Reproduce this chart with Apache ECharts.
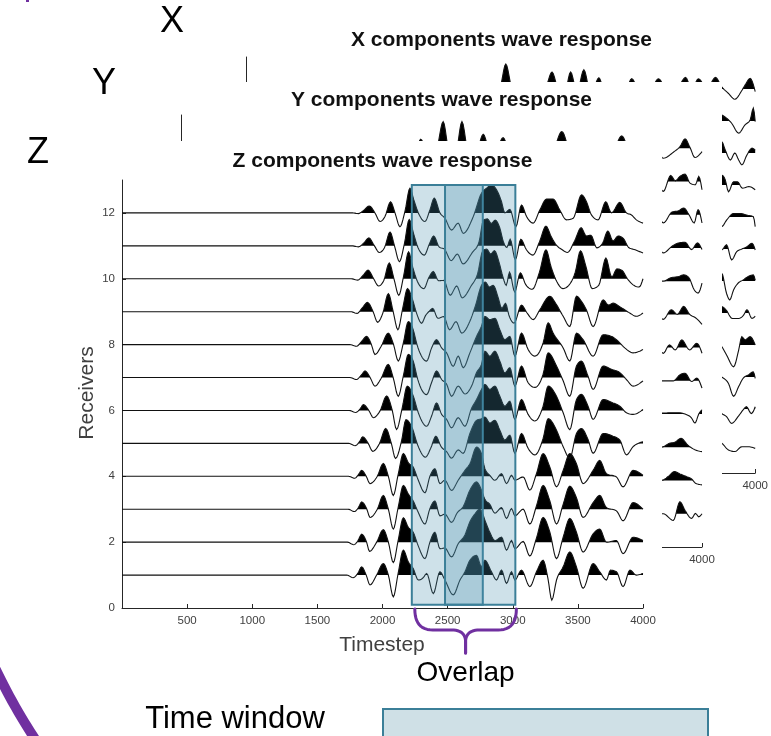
<!DOCTYPE html>
<html><head><meta charset="utf-8">
<script src="https://cdn.jsdelivr.net/npm/echarts@6/dist/echarts.min.js"></script>
<style>html,body{margin:0;padding:0;background:#fff}#c{width:771px;height:736px}</style>
</head><body><div id="c"></div>
<script>
// ---------- data ----------
const timeTicks = [500, 1000, 1500, 2000, 2500, 3000, 3500, 4000];
const receiverTicks = [0, 2, 4, 6, 8, 10, 12];
const panelTitles = ['X components wave response', 'Y components wave response', 'Z components wave response'];
const panelLetters = ['X', 'Y', 'Z'];
const timeWindows = [[2225, 2770], [2480, 3020]];
const windowReceiverSpan = [0.1, 12.85];

// Z component traces: [timestep, amplitude] pairs (receiver 1..12)
const zTrace1 = [[0,0],[1725,0],[1775,-0.08],[1810,0.05],[1840,0.25],[1875,0],[1904,-0.3],[1955,0],[2006,0.35],[2045,0],[2083,-0.66],[2120,0.05],[2160,0.76],[2198,0.4],[2236,0.2],[2275,-0.15],[2313,-0.08],[2339,0.05],[2390,-0.56],[2441,0.1],[2479,-0.15],[2543,-0.6],[2595,-0.15],[2633,0.1],[2671,0.45],[2722,0.6],[2760,0.25],[2786,0.45],[2837,0.1],[2875,-0.15],[2914,0.15],[2952,-0.25],[2991,0.1],[3016,-0.15],[3067,0.15],[3131,-0.35],[3182,0.1],[3233,0.45],[3270,-0.1],[3300,-0.76],[3336,-0.15],[3387,0.25],[3438,0.7],[3489,0.25],[3540,-0.4],[3617,0.35],[3668,0.1],[3719,-0.15],[3750,0.15],[3796,0.1],[3847,-0.35],[3900,0.15],[3949,0],[4000,0.05]];
const zTrace2 = [[0,0],[1730,0],[1780,-0.08],[1812,0.05],[1840,0.24],[1878,0],[1900,-0.28],[1955,0],[2006,0.38],[2045,0],[2083,-0.62],[2120,0.05],[2160,0.74],[2198,0.45],[2236,0.3],[2275,-0.12],[2326,-0.5],[2364,0],[2402,0.3],[2441,-0.2],[2479,-0.18],[2530,-0.45],[2581,-0.05],[2633,0.22],[2671,0.62],[2710,0.86],[2745,1.0],[2760,0.95],[2786,0.67],[2824,0.3],[2863,0.05],[2914,0.15],[2952,-0.24],[2991,0.05],[3016,-0.2],[3080,0.02],[3131,-0.42],[3182,0.12],[3233,0.75],[3285,0.3],[3336,-0.5],[3387,0.15],[3438,0.72],[3489,0.3],[3540,-0.3],[3617,0.25],[3668,0.4],[3719,0],[3796,0.05],[3847,-0.35],[3924,0.15],[4000,0.05]];
const zTrace3 = [[0,0],[1735,0],[1785,-0.07],[1815,0.05],[1840,0.22],[1880,0],[1904,-0.25],[1960,0],[2006,0.42],[2045,0],[2083,-0.6],[2120,0.05],[2160,0.72],[2200,0.45],[2236,0.25],[2275,-0.1],[2326,-0.45],[2364,0.02],[2402,0.25],[2441,-0.2],[2479,-0.15],[2530,-0.4],[2575,-0.1],[2620,0.08],[2671,0.58],[2722,0.83],[2760,0.58],[2786,0.3],[2824,0.15],[2863,-0.12],[2914,0.05],[2952,-0.28],[2991,0.02],[3016,-0.2],[3080,0],[3131,-0.45],[3182,0.1],[3233,0.72],[3285,0.25],[3336,-0.45],[3387,0.15],[3438,0.7],[3489,0.35],[3540,-0.25],[3617,0.2],[3668,0.42],[3719,0.05],[3796,-0.05],[3847,-0.35],[3924,0.2],[4000,0]];
const zTrace4 = [[0,0],[1738,0],[1788,-0.06],[1815,0.05],[1840,0.18],[1875,0],[1904,-0.22],[1960,0],[2006,0.39],[2045,0],[2083,-0.58],[2120,0.05],[2160,0.69],[2200,0.4],[2236,0.28],[2275,-0.12],[2326,-0.5],[2364,0],[2402,0.23],[2441,-0.22],[2479,-0.12],[2530,-0.43],[2581,-0.12],[2633,0.18],[2671,0.38],[2722,0.89],[2760,0.69],[2786,0.23],[2824,0.03],[2863,-0.12],[2914,0.08],[2952,-0.22],[2991,0.03],[3016,-0.12],[3080,-0.02],[3131,-0.42],[3182,0.08],[3233,0.69],[3285,0.28],[3336,-0.32],[3387,0.18],[3438,0.69],[3489,0.38],[3540,-0.22],[3617,0.18],[3668,0.48],[3719,0.08],[3796,-0.02],[3847,-0.32],[3924,0.18],[4000,0.03]];
const zTrace5 = [[0,0],[1740,0],[1790,-0.07],[1825,0.06],[1848,0.2],[1890,0],[1925,-0.24],[1975,-0.02],[2025,0.45],[2068,0],[2100,-0.46],[2145,0.05],[2180,0.72],[2230,0.45],[2270,-0.05],[2330,-0.42],[2370,-0.15],[2410,0.22],[2450,-0.1],[2492,-0.25],[2530,-0.45],[2581,-0.2],[2620,-0.3],[2671,0.3],[2722,0.7],[2760,0.75],[2786,0.8],[2824,0.62],[2863,0.7],[2901,0.4],[2939,0.1],[2978,0.25],[3016,-0.3],[3067,0.3],[3118,-0.15],[3170,-0.35],[3233,0.15],[3272,0.75],[3336,0.4],[3387,-0.1],[3438,-0.45],[3489,0.3],[3527,0.45],[3578,0.12],[3617,-0.3],[3694,0.3],[3770,0.22],[3822,0.1],[3873,-0.35],[3924,-0.1],[4000,0.05]];
const zTrace6 = [[0,0],[1745,0],[1795,-0.06],[1830,0.06],[1853,0.18],[1895,0],[1930,-0.22],[1980,-0.02],[2032,0.44],[2075,0],[2108,-0.58],[2150,0.05],[2190,0.74],[2236,0.44],[2275,-0.07],[2339,-0.48],[2377,-0.17],[2415,0.23],[2454,-0.12],[2492,-0.27],[2530,-0.53],[2581,-0.22],[2633,-0.48],[2684,0.07],[2722,0.33],[2760,0.64],[2786,0.79],[2824,0.64],[2863,0.74],[2901,0.43],[2939,0.13],[2978,0.28],[3016,-0.27],[3067,0.33],[3118,-0.12],[3170,-0.32],[3233,0.13],[3272,0.74],[3336,0.43],[3387,-0.07],[3438,-0.58],[3489,0.33],[3527,0.49],[3578,0.13],[3617,-0.27],[3694,0.33],[3770,0.23],[3822,0.13],[3873,-0.07],[3924,-0.12],[4000,0.03]];
const zTrace7 = [[0,0],[1750,0],[1800,-0.06],[1838,0.08],[1866,0.2],[1905,0],[1942,-0.26],[1990,-0.02],[2044,0.4],[2082,0],[2121,-0.57],[2160,0.05],[2198,0.7],[2236,0.5],[2270,-0.05],[2339,-0.52],[2377,-0.15],[2415,0.2],[2454,-0.06],[2492,-0.2],[2530,-0.57],[2581,-0.26],[2633,-0.5],[2684,-0.26],[2722,0.15],[2760,0.4],[2786,0.8],[2824,0.65],[2863,0.8],[2901,0.5],[2939,0.14],[2978,0.3],[3016,-0.26],[3067,0.35],[3118,-0.16],[3170,-0.3],[3233,0.1],[3272,0.75],[3336,0.35],[3387,-0.1],[3438,-0.57],[3489,0.35],[3527,0.5],[3578,0.04],[3617,-0.36],[3694,0.35],[3758,0.25],[3822,0.15],[3873,-0.06],[3924,-0.26],[4000,-0.1]];
const zTrace8 = [[0,0],[1750,0],[1800,-0.05],[1840,0.1],[1878,0.25],[1915,0],[1942,-0.3],[1990,-0.05],[2044,0.35],[2085,0],[2121,-0.5],[2160,0.05],[2198,0.7],[2236,0.45],[2265,0],[2339,-0.5],[2377,-0.1],[2415,0.15],[2454,-0.1],[2492,-0.25],[2543,-0.66],[2581,-0.35],[2620,-0.7],[2671,-0.25],[2722,0.25],[2760,0.56],[2786,0.86],[2824,0.76],[2863,0.8],[2901,0.45],[2939,0.15],[2978,0.25],[3016,-0.35],[3067,0.35],[3118,-0.15],[3170,-0.35],[3233,0.05],[3272,0.66],[3310,0.35],[3387,-0.1],[3438,-0.5],[3489,0.35],[3540,0.15],[3617,-0.35],[3694,0.3],[3758,0.25],[3796,0.15],[3860,-0.1],[3924,-0.25],[4000,-0.15]];
const zTrace9 = [[0,0],[1755,0],[1805,-0.05],[1845,0.12],[1885,0.28],[1928,0],[1962,-0.32],[2002,-0.05],[2045,0.55],[2082,0],[2118,-0.55],[2155,0.1],[2192,0.7],[2228,0.4],[2262,-0.05],[2300,-0.35],[2330,-0.12],[2360,0.02],[2385,0.1],[2425,-0.2],[2470,-0.15],[2515,-0.55],[2565,-0.3],[2608,-0.65],[2670,-0.3],[2715,0.2],[2760,0.8],[2790,0.9],[2820,0.75],[2850,0.8],[2890,0.4],[2915,0.1],[2945,0.25],[2970,-0.1],[3010,-0.35],[3067,0.2],[3110,-0.04],[3157,-0.24],[3208,0.06],[3285,0.47],[3330,0.25],[3387,-0.14],[3438,-0.45],[3489,0.47],[3530,0.3],[3566,0.05],[3617,-0.45],[3694,0.36],[3735,0.2],[3770,0.26],[3822,0.15],[3898,-0.04],[3949,-0.14],[4000,-0.04]];
const zTrace10 = [[0,0],[1760,0],[1810,-0.04],[1850,0.1],[1890,0.26],[1932,0],[1970,-0.22],[2010,-0.05],[2052,0.48],[2088,0],[2125,-0.5],[2162,0.08],[2200,0.82],[2232,0.35],[2268,-0.08],[2318,-0.3],[2356,0.04],[2390,0.22],[2430,-0.06],[2470,-0.05],[2520,-0.5],[2570,-0.22],[2612,-0.58],[2680,-0.22],[2730,0.15],[2770,0.85],[2800,0.9],[2830,0.75],[2860,0.85],[2895,0.5],[2925,0.05],[2950,-0.2],[2975,0.2],[3015,-0.4],[3058,0.18],[3100,-0.18],[3150,-0.32],[3205,0.2],[3255,0.88],[3295,0.35],[3340,-0.1],[3385,-0.3],[3430,-0.2],[3480,0.2],[3520,0.85],[3560,0.4],[3610,-0.3],[3660,-0.2],[3715,0.63],[3760,0.05],[3800,0.3],[3840,0.25],[3880,0],[3930,-0.2],[3970,-0.25],[4000,0]];
const zTrace11 = [[0,0],[1765,0],[1815,-0.03],[1855,0.08],[1895,0.24],[1938,0],[1975,-0.2],[2015,-0.06],[2058,0.42],[2092,0],[2130,-0.48],[2168,0.06],[2205,0.8],[2238,0.38],[2272,-0.05],[2322,-0.28],[2360,0.06],[2393,0.3],[2436,-0.04],[2475,-0.1],[2527,-0.45],[2575,-0.25],[2618,-0.55],[2690,-0.2],[2740,0.1],[2775,0.78],[2805,0.82],[2835,0.68],[2865,0.78],[2900,0.55],[2930,0.1],[2955,-0.05],[2980,0.2],[3020,-0.42],[3062,0.2],[3105,-0.12],[3155,-0.28],[3205,0.12],[3255,0.6],[3295,0.28],[3335,0.02],[3380,-0.12],[3420,-0.2],[3475,0.15],[3525,0.55],[3565,0.3],[3600,0.32],[3645,-0.06],[3690,0.08],[3730,0.45],[3770,0.15],[3810,0.3],[3850,0.22],[3890,-0.05],[3940,-0.12],[4000,-0.22]];
const zTrace12 = [[0,0],[1770,0],[1814,-0.02],[1853,0.07],[1899,0.21],[1942,0],[1981,-0.26],[2019,-0.11],[2062,0.34],[2096,0],[2134,-0.42],[2172,0.04],[2211,0.75],[2240,0.4],[2275,0],[2326,-0.26],[2364,0.09],[2397,0.45],[2441,0],[2479,-0.16],[2530,-0.52],[2581,-0.31],[2620,-0.62],[2697,-0.11],[2760,0.6],[2799,0.75],[2837,0.85],[2876,0.7],[2914,0.34],[2939,0],[2978,0.11],[3024,-0.42],[3067,0.24],[3106,-0.11],[3157,-0.31],[3208,0.09],[3259,0.42],[3310,0.42],[3361,0.09],[3412,-0.21],[3464,-0.16],[3528,0.55],[3566,0.34],[3604,-0.06],[3655,-0.21],[3714,0.34],[3758,0],[3822,0.32],[3873,0],[3911,-0.06],[3949,-0.21],[4000,-0.31]];

// Y component traces (visible parts)
const yTrace1 = [[3670,0],[3703,0],[3780,-0.2],[3830,0.36],[3870,0.1],[3920,-0.14],[3950,0.01],[3975,-0.09],[4000,0]];
const yTrace2 = [[3670,0],[3703,0.02],[3740,0.12],[3790,0.27],[3830,0.2],[3880,0.12],[3920,0.05],[3950,-0.08],[4000,-0.13]];
const yTrace3 = [[3670,0],[3703,0.02],[3750,0.12],[3790,0.15],[3840,0.27],[3890,0.07],[3950,-0.08],[4000,-0.13]];
const yTrace4 = [[3670,0.03],[3703,0.03],[3760,0.04],[3815,0.04],[3870,0],[3920,-0.12],[3946,-0.27],[3975,0],[4000,0.13]];
const yTrace5 = [[3670,0],[3703,0],[3780,0],[3830,0.18],[3870,0.23],[3920,-0.02],[3960,0.08],[4000,-0.22]];
const yTrace6 = [[3670,0],[3703,-0.17],[3750,0.08],[3795,-0.07],[3845,0.23],[3905,-0.07],[3960,0.13],[4000,-0.17]];
const yTrace7 = [[3670,0],[3703,-0.15],[3765,0.14],[3810,0],[3860,0.24],[3905,0],[3950,-0.1],[4000,-0.3]];
const yTrace8 = [[3670,0],[3703,0],[3760,0.1],[3820,0.14],[3860,0.19],[3900,0.1],[3940,-0.26],[3970,-0.36],[4000,-0.06]];
const yTrace9 = [[3670,0],[3703,-0.15],[3770,0.05],[3820,0.15],[3870,0.17],[3920,-0.05],[3965,0.15],[4000,-0.05]];
const yTrace10 = [[3670,0],[3703,-0.25],[3770,0.08],[3820,0.12],[3860,0.2],[3900,0],[3940,-0.25],[3970,0.15],[4000,-0.25]];
const yTrace11 = [[3670,-0.1],[3703,-0.3],[3760,0.18],[3795,0.02],[3830,0.15],[3870,0.22],[3908,-0.05],[3950,-0.1],[3975,0.15],[4000,-0.25]];
const yTrace12 = [[0,0],[1750,0],[1800,-0.1],[1840,0.27],[1900,-0.2],[1960,-0.05],[2013,0.8],[2060,-0.1],[2110,-0.1],[2157,0.8],[2210,-0.2],[2270,-0.1],[2320,0.42],[2380,-0.2],[2430,0],[2473,0.32],[2530,-0.2],[2600,0],[2680,-0.2],[2760,0.1],[2840,-0.2],[2924,0.5],[3000,-0.2],[3080,0.1],[3160,-0.2],[3250,0.1],[3310,-0.1],[3384,0.37],[3450,-0.1],[3530,0.1],[3600,-0.2],[3650,-0.1],[3703,-0.3],[3780,-0.12],[3831,0.05],[3870,0.28],[3908,0.02],[3946,-0.28],[4000,-0.1]];

// X component traces (visible parts)
const xTrace1 = [[3700,0],[3737,-0.07],[3790,-0.28],[3840,-0.33],[3895,-0.18],[3945,-0.18],[4000,-0.23]];
const xTrace2 = [[3700,0],[3737,-0.14],[3775,-0.24],[3815,-0.45],[3865,-0.24],[3905,-0.03],[3930,0.07],[3970,-0.14],[4000,0.07]];
const xTrace3 = [[3700,0.1],[3737,0],[3790,-0.2],[3830,-0.6],[3870,-0.3],[3905,-0.04],[3945,0.06],[3985,0.16],[4000,-0.04]];
const xTrace4 = [[3700,0.1],[3737,-0.05],[3775,-0.31],[3830,-0.68],[3870,-0.16],[3895,0.26],[3920,0.16],[3960,0.26],[4000,0]];
const xTrace5 = [[3700,0.1],[3737,0.2],[3770,0.1],[3820,-0.17],[3870,-0.17],[3910,-0.06],[3935,0.1],[3975,-0.17],[4000,-0.1]];
const xTrace6 = [[3700,0.1],[3737,0.24],[3775,-0.39],[3800,-0.59],[3830,-0.28],[3865,-0.07],[3905,0.03],[3945,0.14],[3985,0.19],[4000,0.03]];
const xTrace7 = [[3700,0.1],[3737,-0.03],[3775,0.13],[3815,-0.34],[3855,-0.08],[3895,0],[3935,0.07],[3975,0.18],[4000,-0.03]];
const xTrace8 = [[3700,-0.15],[3737,-0.3],[3775,-0.1],[3830,0.11],[3880,0.11],[3935,0.06],[3985,0.01],[4000,-0.3]];
const xTrace9 = [[3700,0.05],[3737,0.31],[3765,0.16],[3790,-0.21],[3830,0.1],[3860,0.1],[3900,-0.1],[3950,-0.05],[4000,-0.15]];
const xTrace10 = [[3700,0.1],[3737,0.35],[3765,0.09],[3805,-0.22],[3840,0],[3870,-0.22],[3895,-0.37],[3935,-0.06],[3975,0.15],[4000,0.09]];
const xTrace11 = [[3700,0.25],[3737,0.19],[3815,-0.07],[3870,-0.38],[3920,-0.12],[3960,0.03],[3985,0.4],[4000,-0.02]];
const xTrace12 = [[0,0],[1850,0],[1950,-0.2],[2000,0.1],[2041,0.78],[2085,0.05],[2150,-0.4],[2230,-0.1],[2290,-0.3],[2360,0.1],[2404,0.53],[2450,0],[2500,-0.2],[2550,0.53],[2600,-0.1],[2654,0.6],[2710,-0.2],[2772,0.35],[2830,-0.3],[2900,-0.1],[2960,-0.3],[3030,0.32],[3100,-0.2],[3170,-0.1],[3241,0.32],[3320,-0.2],[3390,0],[3453,0.36],[3500,0],[3555,0.32],[3620,0],[3688,0.36],[3737,0.07],[3790,-0.14],[3840,-0.32],[3890,-0.08],[3920,0.12],[3960,0.33],[4000,-0.08]];

const xTraces = [xTrace1,xTrace2,xTrace3,xTrace4,xTrace5,xTrace6,xTrace7,xTrace8,xTrace9,xTrace10,xTrace11,xTrace12];
const yTraces = [yTrace1,yTrace2,yTrace3,yTrace4,yTrace5,yTrace6,yTrace7,yTrace8,yTrace9,yTrace10,yTrace11,yTrace12];
const zTraces = [zTrace1,zTrace2,zTrace3,zTrace4,zTrace5,zTrace6,zTrace7,zTrace8,zTrace9,zTrace10,zTrace11,zTrace12];

// ---------- layout / style ----------
const FONT = '"Liberation Sans", Arial, Helvetica, sans-serif';
const grids = [
  {left: 246, top: 57, width: 511, height: 416},   // X
  {left: 181, top: 115, width: 521, height: 432},  // Y
  {left: 122, top: 180, width: 521, height: 428}   // Z
];
const zBase = [1, 4, 7];
const AXIS_COLOR = '#262626';
const LABEL_COLOR = '#404040';
const PURPLE = '#7030a0';
const WIN_FILL = 'rgba(73,145,175,0.27)';
const WIN_STROKE = '#3b7f98';

// ---------- rendering helpers (pixel space) ----------
function monotoneDense(p) {
  const n = p.length;
  if (n < 2) return p.slice();
  const h = [], s = [];
  for (let i = 0; i < n - 1; i++) {
    h[i] = p[i + 1][0] - p[i][0];
    s[i] = h[i] ? (p[i + 1][1] - p[i][1]) / h[i] : 0;
  }
  const m = new Array(n).fill(0);
  for (let i = 1; i < n - 1; i++) {
    const s0 = s[i - 1], s1 = s[i], h0 = h[i - 1], h1 = h[i];
    const pp = (s0 * h1 + s1 * h0) / ((h0 + h1) || 1);
    m[i] = (Math.sign(s0) + Math.sign(s1)) * Math.min(Math.abs(s0), Math.abs(s1), 0.5 * Math.abs(pp)) || 0;
  }
  if (n > 2) {
    m[0] = (3 * s[0] - m[1]) / 2;
    m[n - 1] = (3 * s[n - 2] - m[n - 2]) / 2;
  } else { m[0] = m[1] = s[0]; }
  const out = [];
  for (let i = 0; i < n - 1; i++) {
    const x0 = p[i][0], y0 = p[i][1], y1 = p[i + 1][1], dx = h[i];
    const steps = Math.max(2, Math.ceil(dx / 1.2));
    for (let j = 0; j < steps; j++) {
      const u = j / steps, u2 = u * u, u3 = u2 * u;
      const h00 = 2 * u3 - 3 * u2 + 1, h10 = u3 - 2 * u2 + u, h01 = -2 * u3 + 3 * u2, h11 = u3 - u2;
      out.push([x0 + u * dx, h00 * y0 + h10 * dx * m[i] + h01 * y1 + h11 * dx * m[i + 1]]);
    }
  }
  out.push(p[n - 1].slice());
  return out;
}
function positiveParts(d, yb) {
  const polys = [];
  let cur = null;
  for (let i = 0; i < d.length; i++) {
    const x = d[i][0], y = d[i][1];
    const above = y < yb;
    if (i === 0) {
      if (above) cur = [[x, yb]];
    } else {
      const px = d[i - 1][0], py = d[i - 1][1];
      const pAbove = py < yb;
      if (above !== pAbove) {
        const t = (yb - py) / (y - py);
        const xc = px + t * (x - px);
        if (above) cur = [[xc, yb]];
        else if (cur) { cur.push([xc, yb]); polys.push(cur); cur = null; }
      }
    }
    if (above && cur) cur.push([x, y]);
  }
  if (cur) { cur.push([cur[cur.length - 1][0], yb]); polys.push(cur); }
  return polys;
}

function wiggleSeries(traces, gi) {
  return {
    type: 'custom', xAxisIndex: gi, yAxisIndex: gi, z: zBase[gi] + 1, silent: true,
    data: traces.map((tr, i) => [tr[0][0], i + 1]),
    renderItem: function (params, api) {
      const k = api.value(1);
      const tr = traces[params.dataIndex];
      const pts = tr.map(p => api.coord([p[0], k + p[1]]));
      const yb = api.coord([0, k])[1];
      const dense = monotoneDense(pts);
      const children = positiveParts(dense, yb).map(poly => ({
        type: 'polygon', shape: {points: poly}, style: {fill: '#000', stroke: null}
      }));
      children.push({type: 'polyline', shape: {points: dense},
        style: {stroke: '#111', lineWidth: 1.1, fill: null}});
      return {type: 'group', children: children};
    }
  };
}

function makeAxes(gi) {
  const z = zBase[gi];
  return {
    x: {
      type: 'value', gridIndex: gi, min: 0, max: 4000, interval: 500, z: z,
      axisLine: {lineStyle: {color: AXIS_COLOR, width: 1}},
      axisTick: {inside: true, length: 4, customValues: timeTicks, lineStyle: {color: AXIS_COLOR}},
      axisLabel: {customValues: timeTicks, margin: 7, fontSize: 11.5, color: LABEL_COLOR, fontFamily: FONT,
        formatter: v => (v === 0 ? '' : String(v))},
      splitLine: {show: false}
    },
    y: {
      type: 'value', gridIndex: gi, min: 0, max: 13, interval: 1, z: z,
      axisLine: {show: true, lineStyle: {color: AXIS_COLOR, width: 1}},
      axisTick: {show: true, inside: true, length: 4, customValues: receiverTicks, lineStyle: {color: AXIS_COLOR}},
      axisLabel: {customValues: receiverTicks, margin: 7, fontSize: 11.5, color: LABEL_COLOR, fontFamily: FONT,
        formatter: v => (v % 2 === 0 && v <= 12 ? String(v) : '')},
      splitLine: {show: false}
    }
  };
}

const axes = [0, 1, 2].map(makeAxes);
const option = {
  animation: false,
  backgroundColor: '#fff',
  grid: grids.map(g => Object.assign({containLabel: false}, g)),
  xAxis: axes.map(a => a.x),
  yAxis: axes.map(a => a.y),
  series: [
    wiggleSeries(xTraces, 0),
    wiggleSeries(yTraces, 1),
    wiggleSeries(zTraces, 2),
    {
      type: 'custom', xAxisIndex: 2, yAxisIndex: 2, z: 9, silent: true,
      data: timeWindows.map(w => [w[0], windowReceiverSpan[0]]),
      renderItem: function (params, api) {
        const w = timeWindows[params.dataIndex];
        const p0 = api.coord([w[0], windowReceiverSpan[1]]);
        const p1 = api.coord([w[1], windowReceiverSpan[0]]);
        return {type: 'rect', shape: {x: p0[0], y: p0[1], width: p1[0] - p0[0], height: p1[1] - p0[1]},
          style: {fill: WIN_FILL, stroke: WIN_STROKE, lineWidth: 2}};
      }
    }
  ]
};

const chart = echarts.init(document.getElementById('c'));
chart.setOption(option);

// ---------- annotations ----------
const toPx = (gi, t, v) => chart.convertToPixel({gridIndex: gi}, [t, v]);
const zOrigin = toPx(2, 0, 0);
const bL = toPx(2, timeWindows[0][0], 0)[0] + 3;
const bR = toPx(2, timeWindows[1][1], 0)[0] + 1;
const bC = (bL + bR) / 2;
const by = zOrigin[1];

function quad(p0, c, p1, n) {
  const out = [];
  for (let i = 0; i <= n; i++) {
    const u = i / n, a = (1 - u) * (1 - u), b = 2 * u * (1 - u), d = u * u;
    out.push([a * p0[0] + b * c[0] + d * p1[0], a * p0[1] + b * c[1] + d * p1[1]]);
  }
  return out;
}
function bracketHalf(xEnd, dir) {
  const pts = [];
  pts.push(...quad([xEnd, by + 1], [xEnd, by + 22], [xEnd + dir * 18, by + 22], 12));
  pts.push(...quad([bC - dir * 14, by + 22], [bC, by + 22], [bC, by + 34], 12));
  pts.push([bC, by + 45]);
  return pts;
}
// large decorative ellipse arc at the lower left
function ellipseArc(cx, cy, a, b, f0, f1, n) {
  const out = [];
  for (let i = 0; i <= n; i++) {
    const f = f0 + (f1 - f0) * i / n;
    out.push([cx + a * Math.cos(f), cy + b * Math.sin(f)]);
  }
  return out;
}

const titleY = [40, 100, 161];
const graphics = [
  {type: 'rect', z: 3, silent: true, shape: {x: 128, y: 82, width: 594, height: 520}, style: {fill: '#fff'}},
  {type: 'rect', z: 6, silent: true, shape: {x: 55, y: 141, width: 607, height: 527}, style: {fill: '#fff'}}
];
grids.forEach((g, i) => {
  graphics.push({type: 'text', z: zBase[i] + 2, silent: true, x: g.left + g.width / 2, y: titleY[i],
    style: {text: panelTitles[i], fontSize: 21, fontWeight: 'bold', fontFamily: FONT, fill: '#111',
      align: 'center', verticalAlign: 'middle'}});
});
const letterPos = [[172, 22], [104, 84], [38, 153]];
panelLetters.forEach((L, i) => {
  graphics.push({type: 'text', z: 20, silent: true, x: letterPos[i][0], y: letterPos[i][1],
    style: {text: L, fontSize: 36, fontFamily: FONT, fill: '#000', align: 'center', verticalAlign: 'middle'}});
});
graphics.push(
  {type: 'text', z: 20, silent: true, x: 87, y: 393, rotation: Math.PI / 2,
    style: {text: 'Receivers', fontSize: 21, fontFamily: FONT, fill: LABEL_COLOR, align: 'center', verticalAlign: 'middle'}},
  {type: 'text', z: 20, silent: true, x: 382, y: 645,
    style: {text: 'Timestep', fontSize: 21, fontFamily: FONT, fill: LABEL_COLOR, align: 'center', verticalAlign: 'middle'}},
  {type: 'polyline', z: 20, silent: true, shape: {points: bracketHalf(bL, 1)},
    style: {stroke: PURPLE, lineWidth: 3, fill: null, lineCap: 'round', lineJoin: 'round'}},
  {type: 'polyline', z: 20, silent: true, shape: {points: bracketHalf(bR, -1)},
    style: {stroke: PURPLE, lineWidth: 3, fill: null, lineCap: 'round', lineJoin: 'round'}},
  {type: 'text', z: 20, silent: true, x: bC, y: by + 65,
    style: {text: 'Overlap', fontSize: 28, fontFamily: FONT, fill: '#000', align: 'center', verticalAlign: 'middle'}},
  {type: 'text', z: 20, silent: true, x: 235, y: 719,
    style: {text: 'Time window', fontSize: 31, fontFamily: FONT, fill: '#000', align: 'center', verticalAlign: 'middle'}},
  {type: 'rect', z: 20, silent: true, shape: {x: 383, y: 709, width: 325, height: 40},
    style: {fill: '#cfe0e6', stroke: WIN_STROKE, lineWidth: 2}},
  {type: 'polyline', z: 21, silent: true, shape: {points: ellipseArc(400, 360, 473, 596, 2.3, Math.PI, 80)},
    style: {fill: null, stroke: PURPLE, lineWidth: 10}},
  {type: 'rect', z: 21, silent: true, shape: {x: 26, y: 0, width: 3, height: 2}, style: {fill: PURPLE}}
);
chart.setOption({graphic: {elements: graphics}});
</script>
</body></html>
